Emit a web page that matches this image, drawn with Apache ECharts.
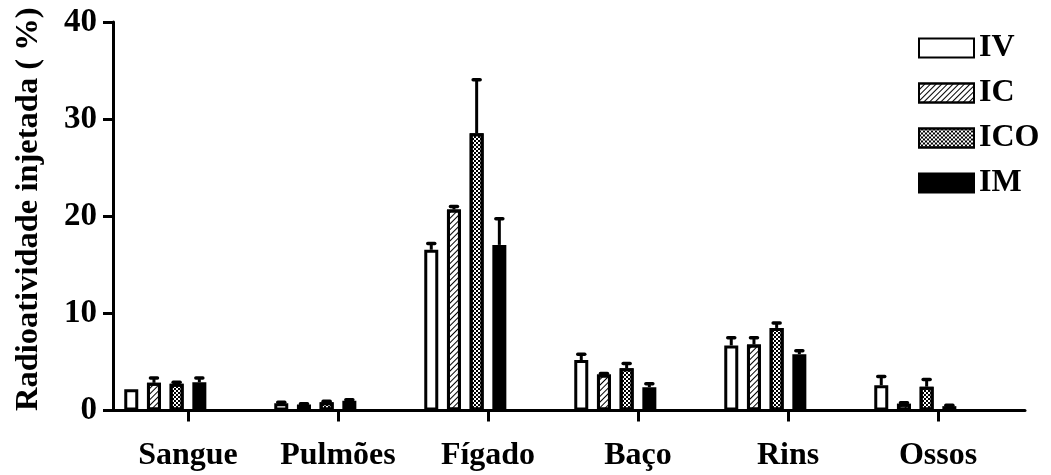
<!DOCTYPE html>
<html>
<head>
<meta charset="utf-8">
<script src="https://cdn.jsdelivr.net/npm/echarts@6/dist/echarts.min.js"></script>
<style>html,body{margin:0;padding:0;background:#fff;}#c{width:1051px;height:475px;}</style>
</head>
<body>
<div id="c"></div>
<script>
var categories = ['Sangue', 'Pulmões', 'Fígado', 'Baço', 'Rins', 'Ossos'];
var seriesNames = ['IV', 'IC', 'ICO', 'IM'];
var ivMean  = [2.2, 0.75, 16.55, 5.2, 6.7, 2.6];
var ivErr   = [0, 0.1, 0.65, 0.6, 0.8, 0.9];
var icMean  = [2.85, 0.6, 20.7, 3.7, 6.8, 0.7];
var icErr   = [0.5, 0.1, 0.3, 0.1, 0.7, 0.1];
var icoMean = [2.75, 0.85, 28.55, 4.35, 8.5, 2.45];
var icoErr  = [0.15, 0.1, 5.5, 0.5, 0.5, 0.75];
var imMean  = [2.9, 1.0, 17.05, 2.4, 5.8, 0.45];
var imErr   = [0.45, 0.1, 2.7, 0.35, 0.35, 0.1];
var yTicks  = [0, 10, 20, 30, 40];

var means = [ivMean, icMean, icoMean, imMean];
var errs = [ivErr, icErr, icoErr, imErr];

var FONT = 'Liberation Serif';
var BW = 14, GAP = 0.621, SLOTS = 6, BORDER = 3;
var pitch = BW * (1 + GAP);

var styles = [
  { color: '#fff', borderColor: '#000', borderWidth: BORDER },
  { color: '#fff', borderColor: '#000', borderWidth: BORDER,
    decal: { symbol: 'rect', symbolSize: 1, symbolKeepAspect: false, color: '#000',
             dashArrayX: [1, 0], dashArrayY: [1, 3], rotation: -Math.PI / 4 } },
  { color: '#fff', borderColor: '#000', borderWidth: BORDER,
    decal: { symbol: 'rect', symbolSize: 1, symbolKeepAspect: false, color: '#000',
             dashArrayX: [[2, 2], [0, 2, 2, 0]], dashArrayY: [2, 0], rotation: 0 } },
  { color: '#000', borderColor: '#000', borderWidth: BORDER }
];

var series = [];
seriesNames.forEach(function (n, i) {
  series.push({
    name: n, type: 'bar', xAxisIndex: 0, yAxisIndex: 0,
    barWidth: BW, barGap: (GAP * 100) + '%',
    data: means[i], itemStyle: styles[i], z: 3, silent: true
  });
});
for (var d = 0; d < 2; d++) {
  series.push({ name: 'pad' + d, type: 'bar', xAxisIndex: 0, yAxisIndex: 0,
    barWidth: BW, barGap: (GAP * 100) + '%',
    data: categories.map(function () { return null; }) });
}
seriesNames.forEach(function (n, i) {
  var offset = (i - (SLOTS - 1) / 2) * pitch;
  series.push({
    name: n + ' err', type: 'custom', xAxisIndex: 0, yAxisIndex: 0, z: 5, silent: true,
    data: categories.map(function (c, k) { return [k, means[i][k], errs[i][k]]; }),
    encode: { x: 0, y: 1 },
    renderItem: function (params, api) {
      var m = api.value(1), e = api.value(2);
      if (!e) return null;
      var top = api.coord([api.value(0), m + e]);
      var base = api.coord([api.value(0), m]);
      var x = top[0] + offset;
      return { type: 'group', children: [
        { type: 'line', shape: { x1: x, y1: base[1], x2: x, y2: top[1] },
          style: { stroke: '#000', lineWidth: 3 } },
        { type: 'line', shape: { x1: x - 3.5, y1: top[1], x2: x + 3.5, y2: top[1] },
          style: { stroke: '#000', lineWidth: 3.5, lineCap: 'round' } }
      ] };
    }
  });
});

var option = {
  animation: false,
  backgroundColor: '#fff',
  grid: [
    { left: 113, top: 22, width: 900, bottom: 64.5 },
    { left: 113, top: 22, width: 912, bottom: 64.5 }
  ],
  legend: {
    data: seriesNames, orient: 'vertical', left: 913, top: 27,
    itemWidth: 55, itemHeight: 19, itemGap: 13, icon: 'rect',
    textStyle: { fontFamily: FONT, fontWeight: 'bold', fontSize: 32, color: '#000', lineHeight: 31 }
  },
  xAxis: [
    { type: 'category', gridIndex: 0, data: categories, boundaryGap: true,
      axisLine: { show: false },
      axisTick: { show: true, alignWithLabel: true, length: 11, lineStyle: { color: '#000', width: 3 } },
      axisLabel: { interval: 0, fontFamily: FONT, fontWeight: 'bold', fontSize: 32, color: '#000', margin: 29 },
      splitLine: { show: false } },
    { type: 'value', gridIndex: 1, min: 0, max: 1, position: 'bottom',
      axisLine: { show: true, onZero: false, lineStyle: { color: '#000', width: 3 } },
      axisTick: { show: false }, axisLabel: { show: false }, splitLine: { show: false } }
  ],
  yAxis: [
    { type: 'value', gridIndex: 0, min: 0, max: 40, interval: 10,
      name: 'Radioatividade injetada ( %)', nameLocation: 'middle', nameGap: 68,
      nameTextStyle: { fontFamily: FONT, fontWeight: 'bold', fontSize: 32.5, color: '#000', padding: [0, 0, 0, 14] },
      axisLine: { show: true, lineStyle: { color: '#000', width: 3 } },
      axisTick: { show: true, length: 10, lineStyle: { color: '#000', width: 3 } },
      axisLabel: { fontFamily: FONT, fontWeight: 'bold', fontSize: 33, color: '#000', margin: 16,
        formatter: function (v) { return yTicks.indexOf(v) >= 0 ? String(v) : ''; } },
      splitLine: { show: false } },
    { type: 'value', gridIndex: 1, show: false, min: 0, max: 1 }
  ],
  series: series
};
var chart = echarts.init(document.getElementById('c'), null, { renderer: 'canvas' });
chart.setOption(option);
</script>
</body>
</html>
